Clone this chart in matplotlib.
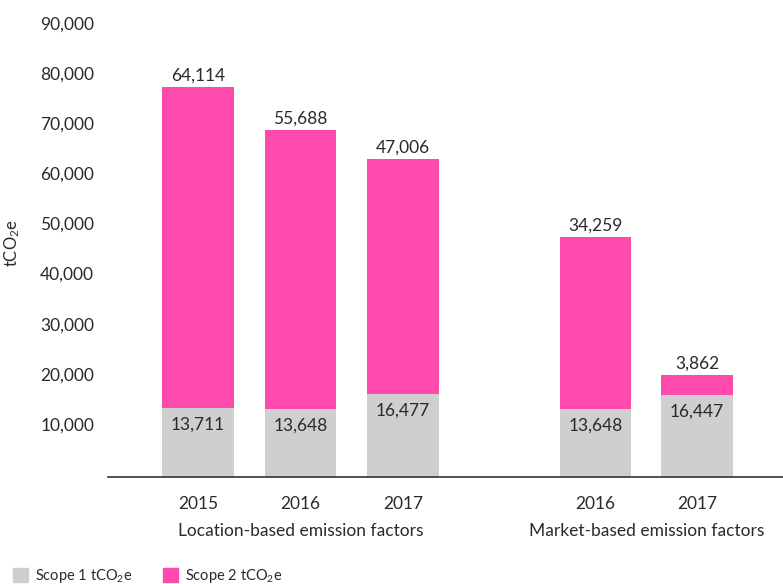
import matplotlib
matplotlib.use("Agg")
import matplotlib.pyplot as plt
import matplotlib.transforms as mtransforms
from matplotlib.patches import Patch
from matplotlib.ticker import FuncFormatter

plt.rcParams["font.family"] = ["Lato", "DejaVu Sans"]
plt.rcParams["mathtext.fontset"] = "custom"
plt.rcParams["mathtext.rm"] = "Lato"
plt.rcParams["mathtext.it"] = "Lato"

# Emissions data (tCO2e)
years = ["2015", "2016", "2017", "2016", "2017"]
groups = ["Location-based emission factors", "Market-based emission factors"]
scope1 = [13711, 13648, 16477, 13648, 16447]
scope2 = [64114, 55688, 47006, 34259, 3862]
positions = [0, 1, 2, 3.88, 4.87]
group_centers = [1, 4.375]
yticks = [10000, 20000, 30000, 40000, 50000, 60000, 70000, 80000, 90000]

GREY = "#cfcfcf"
PINK = "#ff4aad"
TEXT = "#2a2a2a"
FS = 12.5

fig = plt.figure(figsize=(7.83, 5.84), dpi=100)
ax = fig.add_axes([108 / 783, (584 - 477) / 584, 1 - 108 / 783, 461 / 584])

width = 0.70
ax.bar(positions, scope1, width=width, color=GREY, zorder=2)
totals = [a + b for a, b in zip(scope1, scope2)]
ax.bar(positions, scope2, width=width, bottom=scope1, color=PINK, zorder=2)

for x, s1, s2, tot in zip(positions, scope1, scope2, totals):
    ax.annotate(f"{s1:,}", (x, s1), xytext=(0, -12), textcoords="offset points",
                ha="center", va="center", fontsize=FS, color=TEXT)
    ax.annotate(f"{s2:,}", (x, tot), xytext=(0, 8), textcoords="offset points",
                ha="center", va="center", fontsize=FS, color=TEXT)

ax.set_xlim(-0.88, 5.71)
ax.set_ylim(0, 92000)
ax.set_yticks(yticks)
ax.yaxis.set_major_formatter(FuncFormatter(lambda v, p: f"{int(v):,}"))
ax.tick_params(axis="y", length=0, pad=10, labelsize=FS, labelcolor=TEXT)
lift = mtransforms.ScaledTranslation(0, 3 / 100, fig.dpi_scale_trans)
for lbl in ax.get_yticklabels():
    lbl.set_transform(lbl.get_transform() + lift)

ax.set_xticks(positions)
ax.set_xticklabels(years)
ax.tick_params(axis="x", length=0, pad=14, labelsize=FS, labelcolor=TEXT)

for gx, g in zip(group_centers, groups):
    ax.annotate(g, (gx, 0), xytext=(0, -39), textcoords="offset points",
                ha="center", va="center", fontsize=FS, color=TEXT,
                annotation_clip=False)

for side in ["top", "right", "left"]:
    ax.spines[side].set_visible(False)
ax.spines["bottom"].set_color("#333333")
ax.spines["bottom"].set_linewidth(1.2)

fig.text(12 / 783, 1 - 243 / 584, "tCO$_2$e", rotation=90, ha="center", va="center",
         fontsize=12, color=TEXT)

handles = [Patch(color=GREY, label="Scope 1 tCO$_2$e"),
           Patch(color=PINK, label="Scope 2 tCO$_2$e")]
fig.legend(handles=handles, loc="center left", bbox_to_anchor=(13 / 783, 8 / 584),
           ncol=2, frameon=False, fontsize=10.5, handlelength=1.05, handleheight=1.05,
           handletextpad=0.45, columnspacing=2.1, borderpad=0, borderaxespad=0,
           labelcolor=TEXT)

fig.savefig("out.png", dpi=100)
